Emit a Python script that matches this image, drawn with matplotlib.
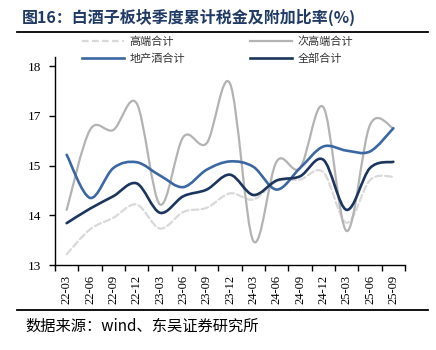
import numpy as np
import matplotlib
matplotlib.use('Agg')
import matplotlib.pyplot as plt
from matplotlib.path import Path
from matplotlib.patches import PathPatch
from matplotlib.lines import Line2D

# Data (%)
quarters = ['22-03', '22-06', '22-09', '22-12', '23-03', '23-06', '23-09', '23-12',
            '24-03', '24-06', '24-09', '24-12', '25-03', '25-06', '25-09']
high_end = [13.26, 13.86, 14.14, 14.46, 13.88, 14.28, 14.38, 14.73,
            14.58, 15.02, 15.06, 15.24, 14.02, 15.05, 15.13]
sub_high = [14.33, 16.26, 16.26, 16.90, 14.46, 16.09, 15.94, 17.38,
            13.58, 15.50, 15.34, 16.81, 13.82, 16.38, 16.30]
regional = [15.66, 14.62, 15.34, 15.48, 15.16, 14.88, 15.30, 15.50,
            15.37, 14.82, 15.34, 15.86, 15.76, 15.74, 16.30]
total = [14.01, 14.36, 14.66, 14.97, 14.26, 14.66, 14.82, 15.18,
         14.69, 15.04, 15.14, 15.54, 14.33, 15.34, 15.49]

series = [
    ('高端合计', high_end, '#d9d9d9', (0, (3, 1.5))),
    ('地产酒合计', regional, '#3b67a3', '-'),
    ('次高端合计', sub_high, '#b3b3b3', '-'),
    ('全部合计', total, '#1c355e', '-'),
]

cjk = ['Noto Sans CJK SC', 'DejaVu Sans']
serif = ['Liberation Serif', 'DejaVu Serif']


def smooth_path(x, y):
    # Excel-style smoothed line: cubic bezier through each point
    n = len(x)
    verts = [(x[0], y[0])]
    codes = [Path.MOVETO]
    for i in range(n - 1):
        a = max(i - 1, 0)
        b = min(i + 2, n - 1)
        c1 = (x[i] + (x[i + 1] - x[a]) / 6, y[i] + (y[i + 1] - y[a]) / 6)
        c2 = (x[i + 1] - (x[b] - x[i]) / 6, y[i + 1] - (y[b] - y[i]) / 6)
        verts += [c1, c2, (x[i + 1], y[i + 1])]
        codes += [Path.CURVE4] * 3
    return Path(verts, codes)


fig = plt.figure(figsize=(4.36, 3.5), dpi=100)
ax = fig.add_axes([55 / 436, 1 - 265 / 350, 350 / 436, 208 / 350])

xs = np.arange(len(quarters))
handles = []
# draw order: background lines first
for name, vals, color, ls in [series[0], series[2], series[1], series[3]]:
    lw = 1.9 if name in ('全部合计', '地产酒合计') else 1.6
    patch = PathPatch(smooth_path(xs, vals), fill=False, edgecolor=color,
                      lw=lw, linestyle=ls, capstyle='round', joinstyle='round')
    ax.add_patch(patch)

for name, vals, color, ls in series:
    lw = 1.9 if name in ('全部合计', '地产酒合计') else 1.6
    handles.append(Line2D([], [], color=color, lw=lw, linestyle=ls, label=name))

ax.set_xlim(-0.5, 14.5)
ax.set_ylim(13, 18.02)
yt = [13, 14.2, 15.4, 16.6, 17.8]
ax.set_yticks(yt)
ax.set_yticklabels(['13', '14', '15', '17', '18'], fontfamily=serif, fontsize=9.5)
ax.set_xticks(xs)
ax.set_xticklabels(quarters, rotation=90, fontfamily=serif, fontsize=9)
ax.set_xticks(np.arange(-0.5, 15, 1), minor=True)
ax.tick_params(axis='x', which='major', length=0, pad=7)
ax.tick_params(axis='x', which='minor', length=4, direction='out', width=1)
ax.tick_params(axis='y', length=4, direction='out', width=1, pad=6)

for s in ['top', 'right']:
    ax.spines[s].set_visible(False)
for s in ['left', 'bottom']:
    ax.spines[s].set_linewidth(1)
    ax.spines[s].set_color('black')

leg = fig.legend(handles=handles, ncol=2, loc='upper left',
                 bbox_to_anchor=(82 / 436, 1 - 36 / 350), frameon=False,
                 prop={'family': cjk, 'size': 8}, handlelength=3.8,
                 handletextpad=0.5, columnspacing=5.8, labelspacing=0.6,
                 borderpad=0, borderaxespad=0)
for t in leg.get_texts():
    t.set_color('#333333')

fig.text(22 / 436, 1 - 17 / 350, '图16：白酒子板块季度累计税金及附加比率(%)',
         fontfamily=cjk, fontsize=11.5, fontweight='bold', color='#1f3a64',
         va='center', ha='left')
fig.text(25 / 436, 1 - 326 / 350, '数据来源：wind、东吴证券研究所',
         fontfamily=cjk, fontsize=11, color='black', va='center', ha='left')

fig.add_artist(Line2D([17 / 436, 428 / 436], [1 - 32 / 350, 1 - 32 / 350],
                      color='black', lw=1.3, transform=fig.transFigure))
fig.add_artist(Line2D([17 / 436, 428 / 436], [1 - 310 / 350, 1 - 310 / 350],
                      color='black', lw=1.3, transform=fig.transFigure))

fig.savefig('out.png', dpi=100)
